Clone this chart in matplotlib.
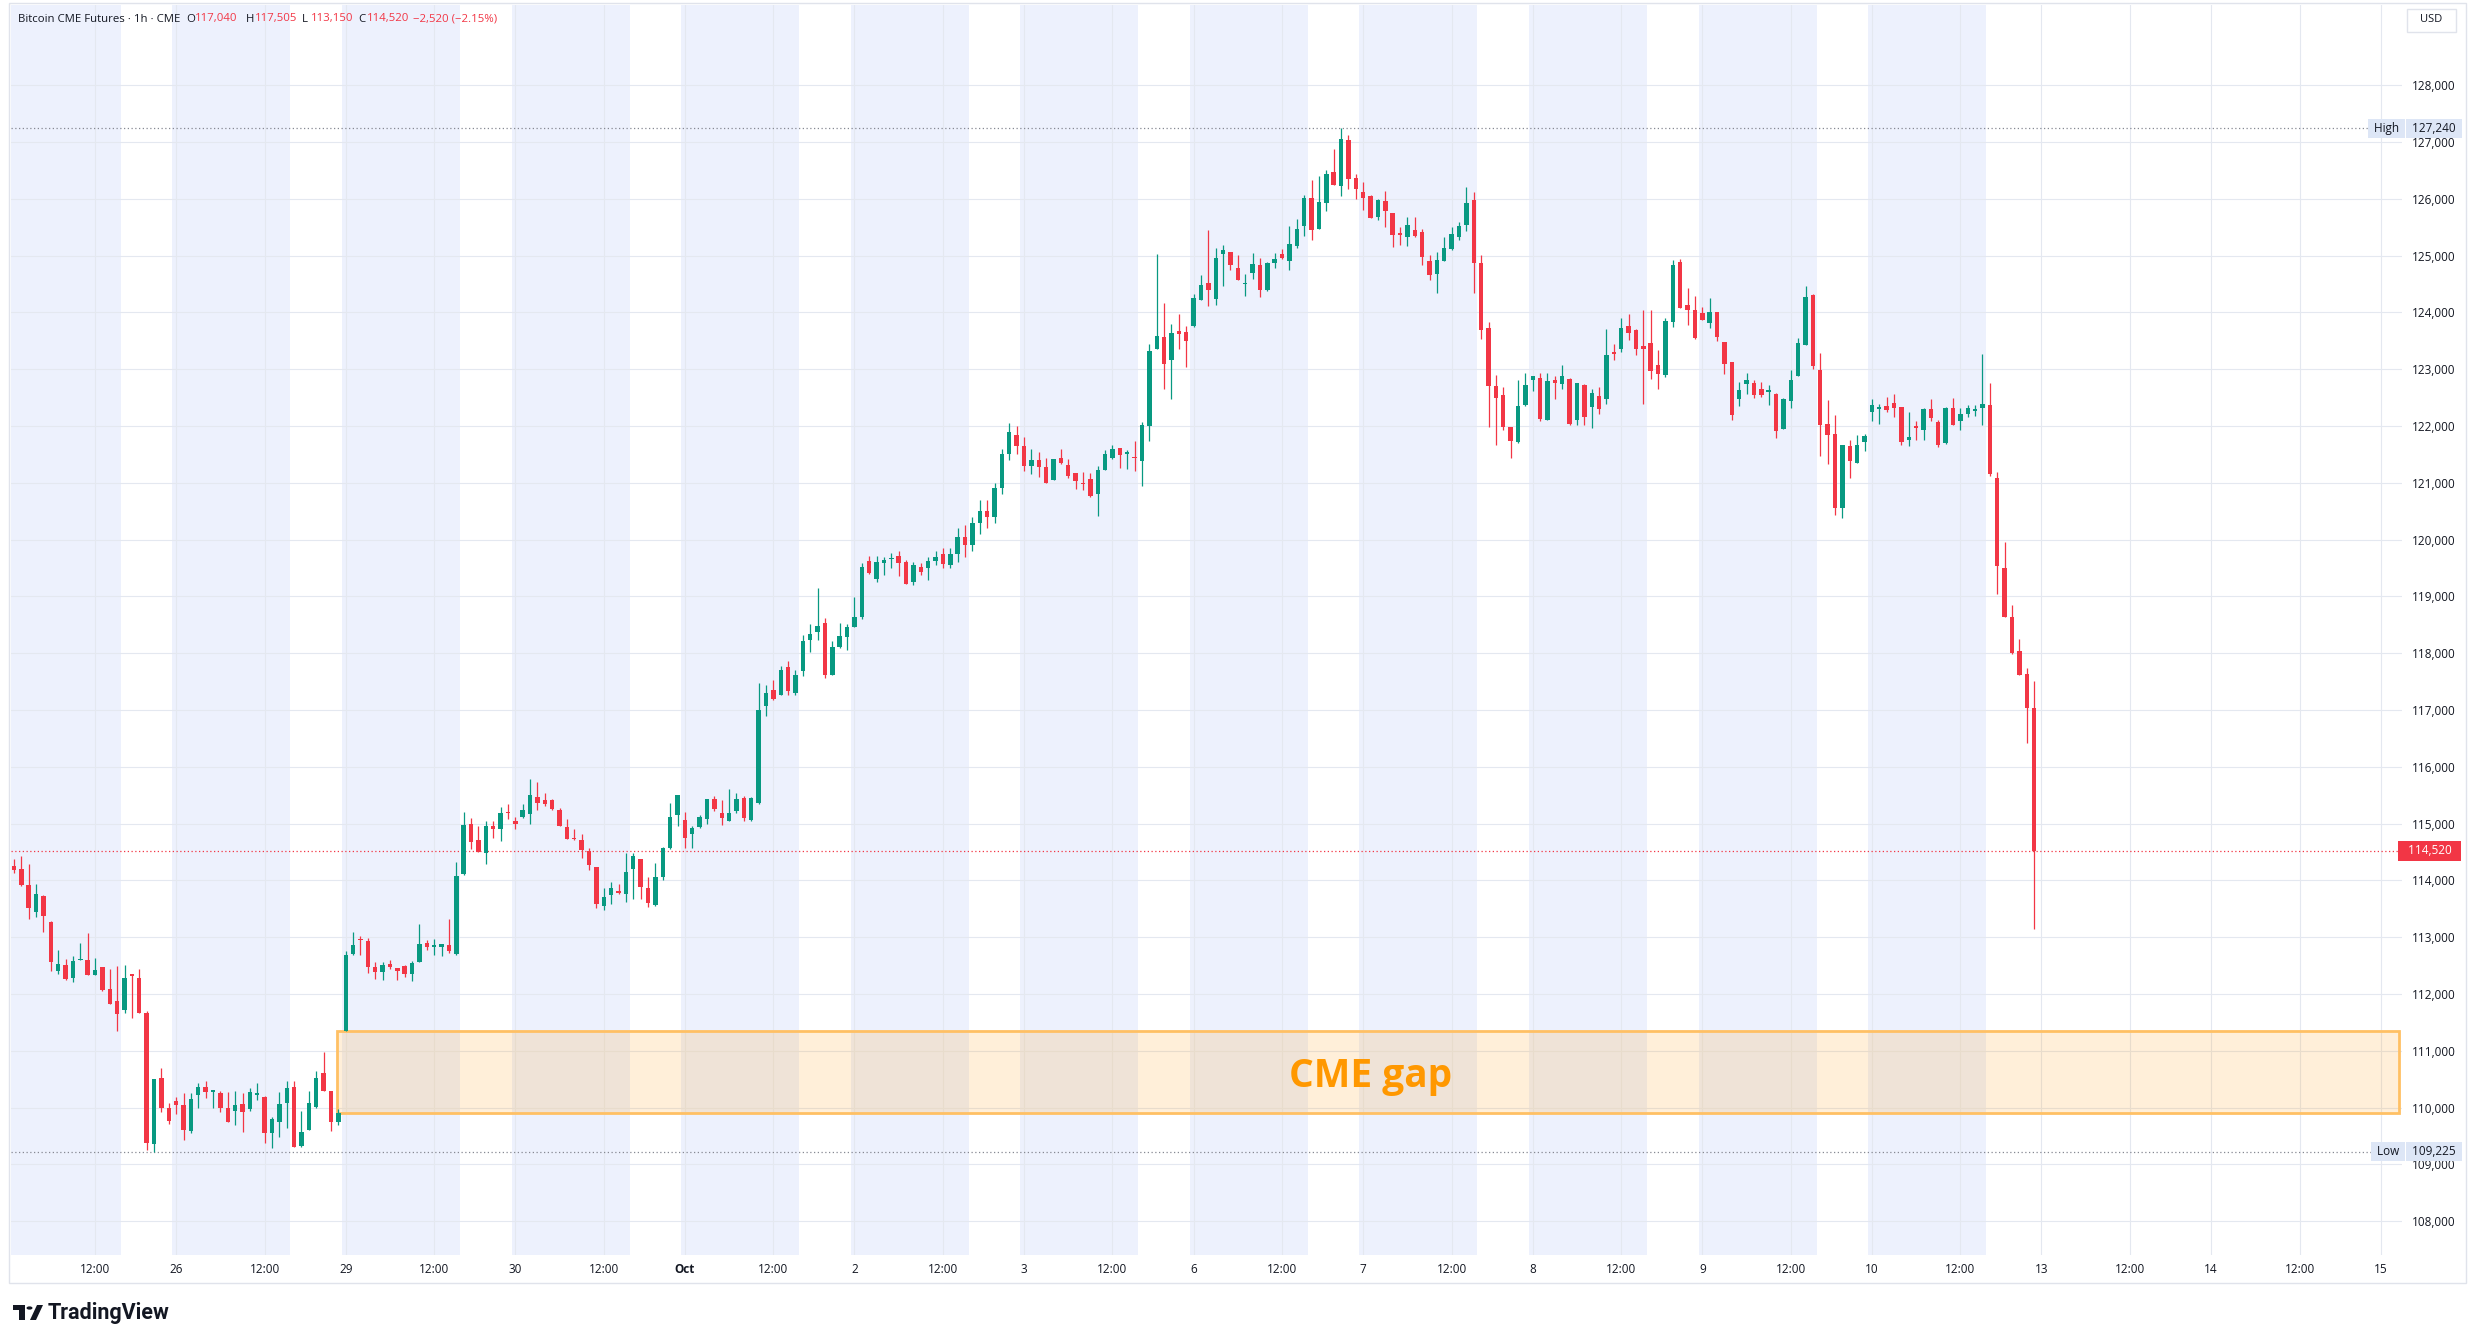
import numpy as np
import matplotlib.pyplot as plt
from matplotlib.patches import Rectangle, Polygon, Circle
import matplotlib.transforms as mtransforms

plt.rcParams['font.family'] = ['Open Sans', 'DejaVu Sans']

# hourly candles, Sep 25 01:00 .. Oct 10 22:00 (bar index 0..274)
opens = [
    114250, 114206, 113912, 113447, 113729, 113271, 112412, 112506, 112282, 112590,
    112600, 112341, 112476, 112094, 111876, 111724, 112350, 112282, 111665, 109359,
    110518, 110000, 110118, 110047, 109588, 110224, 110371, 110280, 110253, 109988,
    109941, 110065, 109971, 110230, 110194, 109547, 109753, 110088, 110371, 109324,
    109606, 110006, 110618, 110294, 109753, 111353, 112706, 112970, 112941, 112482,
    112382, 112524, 112459, 112500, 112359, 112559, 112900, 112835, 112824, 112871,
    112706, 114106, 115000, 114706, 114476, 114959, 114900, 115200, 115047, 115118,
    115165, 115471, 115420, 115424, 115235, 114947, 114753, 114706, 114518, 114235,
    113547, 113741, 113790, 113753, 114194, 114371, 113871, 113559, 114059, 114565,
    115147, 115065, 114812, 114941, 115088, 115429, 115188, 115047, 115224, 115452,
    115059, 115364, 117076, 117358, 117258, 117751, 117299, 117692, 118238, 118372,
    118531, 117610, 118103, 118290, 118466, 118630, 119616, 119311, 119587, 119650,
    119720, 119604, 119252, 119516, 119499, 119627, 119750, 119557, 119750, 120050,
    119900, 120300, 120500, 120400, 120900, 121500, 121850, 121650, 121300, 121400,
    121275, 121041, 121433, 121322, 121170, 120994, 121070, 120795, 121234, 121439,
    121608, 121515, 121450, 121392, 121997, 123352, 123569, 123158, 123674, 123657,
    123757, 124214, 124525, 124243, 125023, 125065, 124789, 124500, 124695, 124830,
    124390, 124871, 125035, 124900, 125164, 125522, 126021, 125463, 125927, 126472,
    126220, 127041, 126367, 126120, 126050, 125680, 125962, 125751, 125405, 125328,
    125446, 125416, 124900, 124683, 124906, 125111, 125328, 125534, 125985, 124877,
    123733, 122707, 122543, 121985, 121710, 122367, 122806, 122847, 122109, 122806,
    122748, 122836, 122097, 122730, 122337, 122525, 122484, 123280, 123364, 123762,
    123698, 123411, 123463, 123070, 122906, 123833, 124889, 124126, 124050, 123997,
    123821, 124009, 123481, 123129, 122484, 122748, 122760, 122660, 122601, 122572,
    121956, 122437, 122883, 123422, 124314, 122982, 122044, 121868, 120560, 121645,
    121352, 121710, 122238, 122308, 122355, 122408, 122337, 121751, 121997, 121927,
    122308, 122062, 121692, 122317, 122096, 122214, 122270, 122317, 122362, 121085,
    119498, 118635, 118044, 117631, 117040,
]
highs = [
    114370, 114429, 114294, 113929, 113740, 113280, 112776, 112618, 112665, 112900,
    113076, 112635, 112476, 112447, 112494, 112518, 112353, 112447, 111694, 110506,
    110694, 110088, 110194, 110253, 110253, 110429, 110471, 110290, 110294, 110282,
    110300, 110253, 110353, 110429, 110200, 109841, 110282, 110471, 110471, 109947,
    110294, 110647, 110976, 110294, 109971, 112753, 113094, 113018, 112988, 112565,
    112565, 112594, 112460, 112518, 112576, 113235, 112953, 112970, 112882, 113312,
    114329, 115212, 115106, 114959, 115047, 115047, 115294, 115353, 115124, 115341,
    115782, 115741, 115547, 115430, 115271, 115076, 114900, 114812, 114576, 114240,
    113871, 113976, 113941, 114488, 114488, 114380, 114059, 114312, 114580, 115371,
    115510, 115212, 114959, 115153, 115430, 115488, 115412, 115606, 115547, 115481,
    115460, 117475, 117446, 117534, 117768, 117868, 117698, 118314, 118519, 119147,
    118619, 118220, 118531, 118513, 118982, 119587, 119720, 119720, 119700, 119760,
    119800, 119640, 119600, 119590, 119700, 119800, 119850, 119850, 120200, 120250,
    120400, 120700, 120700, 121000, 121600, 122050, 122000, 121800, 121600, 121550,
    121439, 121421, 121596, 121421, 121170, 121187, 121170, 121292, 121585, 121667,
    121610, 121579, 121743, 122076, 123452, 125035, 124173, 123792, 123979, 123762,
    124331, 124654, 125457, 125135, 125182, 125070, 125006, 124683, 125047, 124965,
    124880, 125053, 125123, 125516, 125651, 126073, 126337, 126402, 126501, 126883,
    127240, 127117, 126443, 126296, 126062, 126003, 126138, 125751, 125504, 125680,
    125680, 125475, 125006, 125065, 125329, 125504, 125592, 126208, 126120, 125006,
    123833, 122906, 122689, 121990, 122818, 122941, 122880, 122941, 122941, 122882,
    123070, 122840, 122760, 122735, 122660, 122689, 123716, 123452, 123909, 123979,
    123700, 124050, 124050, 123346, 123903, 124918, 124935, 124431, 124290, 124097,
    124255, 124015, 123485, 123135, 122777, 122941, 122806, 122777, 122730, 122575,
    122490, 122982, 123551, 124466, 124320, 123287, 122455, 122191, 121670, 121762,
    121839, 121868, 122484, 122396, 122513, 122560, 122340, 122250, 122085, 122310,
    122472, 122103, 122340, 122487, 122317, 122376, 122376, 123262, 122760, 121196,
    119956, 118849, 118258, 117742, 117505,
]
lows = [
    114135, 113900, 113312, 113359, 113088, 112400, 112353, 112253, 112206, 112590,
    112341, 112341, 112060, 111829, 111341, 111665, 111576, 111660, 109253, 109225,
    109929, 109712, 109882, 109429, 109547, 110000, 110176, 110000, 109929, 109753,
    109694, 109571, 109941, 110135, 109371, 109282, 109488, 109635, 109300, 109312,
    109606, 110000, 110300, 109588, 109694, 111353, 112694, 112694, 112365, 112271,
    112253, 112447, 112253, 112294, 112224, 112559, 112771, 112694, 112665, 112724,
    112682, 114094, 114547, 114500, 114294, 114753, 114694, 115076, 114900, 115106,
    114988, 115235, 115318, 115241, 114953, 114724, 114720, 114400, 114176, 113518,
    113471, 113576, 113765, 113624, 113665, 113665, 113529, 113547, 114000, 114560,
    114959, 114576, 114576, 114918, 115000, 115224, 114976, 115047, 115194, 115053,
    115053, 115346, 116900, 117182, 117258, 117270, 117258, 117592, 118015, 118238,
    117563, 117610, 118091, 118062, 118460, 118607, 119393, 119252, 119381, 119500,
    119357, 119223, 119200, 119375, 119293, 119560, 119500, 119500, 119600, 119700,
    119800, 120100, 120200, 120300, 120800, 121400, 121500, 121200, 121150, 121100,
    120995, 121041, 121333, 121088, 120883, 120865, 120749, 120409, 121230, 121421,
    121263, 121246, 121199, 120936, 121733, 123350, 122660, 122472, 123352, 123041,
    123745, 124210, 124109, 124126, 124460, 124742, 124570, 124290, 124595, 124273,
    124385, 124783, 124947, 124742, 125135, 125346, 125270, 125460, 125780, 126238,
    126044, 126167, 125991, 125798, 125660, 125622, 125504, 125152, 125194, 125164,
    125328, 124830, 124566, 124343, 124900, 125100, 125270, 125428, 124343, 123540,
    121985, 121663, 121927, 121440, 121700, 122360, 122613, 122085, 122100, 122484,
    122660, 122015, 122015, 122015, 121968, 122220, 122396, 123158, 123305, 123510,
    123258, 122396, 122824, 122660, 122865, 123745, 124080, 123774, 123528, 123860,
    123727, 123493, 122924, 122103, 122355, 122572, 122496, 122513, 122378, 121780,
    121950, 122320, 122880, 123420, 123000, 121475, 121328, 120431, 120384, 121076,
    121350, 121563, 122085, 122044, 122250, 122161, 121663, 121645, 121762, 121751,
    122085, 121633, 121690, 122022, 121934, 122155, 122170, 122022, 121122, 119041,
    118635, 117985, 117616, 116421, 113150,
]
closes = [
    114190, 113912, 113506, 113753, 113365, 112559, 112529, 112271, 112582, 112618,
    112341, 112418, 112065, 111829, 111653, 112282, 112310, 111665, 109371, 110506,
    109988, 109765, 110047, 109606, 110147, 110371, 110282, 110290, 109988, 109753,
    110047, 109918, 110271, 110253, 109559, 109794, 110059, 110353, 109312, 109576,
    110076, 110529, 110300, 109753, 109900, 112682, 112859, 112947, 112482, 112382,
    112506, 112471, 112400, 112359, 112547, 112882, 112835, 112845, 112882, 112753,
    114076, 114976, 114682, 114500, 114959, 114900, 115188, 115180, 114988, 115241,
    115506, 115359, 115340, 115253, 114953, 114724, 114724, 114529, 114265, 113588,
    113706, 113871, 113780, 114147, 114429, 113888, 113594, 114059, 114576, 115124,
    115506, 114741, 114929, 115124, 115429, 115265, 115106, 115188, 115441, 115100,
    115452, 117006, 117299, 117199, 117698, 117328, 117610, 118208, 118337, 118472,
    117622, 118103, 118296, 118455, 118630, 119510, 119411, 119604, 119645, 119680,
    119586, 119223, 119557, 119434, 119616, 119700, 119569, 119750, 120050, 119900,
    120300, 120500, 120400, 120900, 121500, 121900, 121650, 121300, 121400, 121270,
    121000, 121421, 121345, 121117, 121029, 120977, 120766, 121228, 121509, 121596,
    121497, 121520, 121433, 122018, 123323, 123587, 123100, 123639, 123628, 123493,
    124255, 124490, 124390, 124959, 125106, 124830, 124578, 124519, 124859, 124390,
    124877, 124947, 124965, 125211, 125475, 126015, 125446, 125944, 126443, 126238,
    127059, 126343, 126179, 126015, 125663, 125985, 125786, 125358, 125370, 125534,
    125346, 124977, 124654, 124918, 125135, 125387, 125522, 125933, 124877, 123686,
    122707, 122501, 121985, 121733, 122355, 122730, 122877, 122132, 122789, 122765,
    122877, 122044, 122760, 122150, 122584, 122308, 123246, 123270, 123727, 123639,
    123364, 123364, 122971, 122924, 123844, 124842, 124085, 124038, 123551, 123862,
    124009, 123563, 123088, 122191, 122642, 122818, 122554, 122554, 122610, 121915,
    122484, 122818, 123469, 124279, 123053, 122015, 121839, 120560, 121663, 121381,
    121663, 121827, 122378, 122310, 122279, 122320, 121721, 121810, 121968, 122308,
    122144, 121663, 122317, 122022, 122214, 122317, 122290, 122391, 121159, 119528,
    118635, 118007, 117616, 117040, 114520,
]

day_labels = ['25', '26', '29', '30', 'Oct', '2', '3', '6', '7', '8', '9', '10', '13', '14', '15']
bars_per_day = 23
first_day_start = -1      # Sep 25 00:00 is one bar before the first candle
noon_offset = 12
session_bars = 16         # shaded hours of each trading day
traded_days = 12

high_price = 127240
low_price = 109225
gap_bottom = 109900
gap_top = 111353
gap_start_bar = 44

UP = '#089981'
DOWN = '#f23645'
BAND = '#edf1fd'
GRID = '#e4e8f0'
TEXT = '#131722'

W, H = 2475, 1343
X_LO, X_HI = -0.4, 323.9


def fx(px):
    return px / W


def fy(py):
    return 1 - py / H


fig = plt.figure(figsize=(W / 100, H / 100), dpi=100)
ax = fig.add_axes([fx(11), fy(1255), fx(2402) - fx(11), fy(5) - fy(1255)])

# session shading
for k in range(traded_days):
    s = first_day_start + k * bars_per_day
    ax.axvspan(s - 0.5, s + session_bars - 0.5, color=BAND, lw=0, zorder=0)

# candles
o = np.array(opens)
h = np.array(highs)
l = np.array(lows)
c = np.array(closes)
x = np.arange(len(o))
colors = np.where(c >= o, UP, DOWN)
ax.vlines(x, l, h, colors=colors, lw=0.9, zorder=3)
ax.bar(x, np.maximum(np.abs(c - o), 25), bottom=np.minimum(o, c), width=0.6,
       color=colors, lw=0, zorder=4)

# CME gap box
ax.add_patch(Rectangle((gap_start_bar - 0.15, gap_bottom), X_HI - gap_start_bar - 0.2,
                       gap_top - gap_bottom, facecolor=(1, 0.596, 0, 0.15),
                       edgecolor='#ffc064', lw=2, zorder=2))
ax.text((gap_start_bar + X_HI) / 2, (gap_top + gap_bottom) / 2, 'CME gap',
        color='#ff9800', fontsize=28, fontweight='bold', ha='center', va='center_baseline',
        zorder=5)

# high / low / last price lines
ax.axhline(high_price, color='#868993', ls=(0, (1, 2)), lw=0.9, zorder=2)
ax.axhline(low_price, color='#868993', ls=(0, (1, 2)), lw=0.9, zorder=2)
ax.axhline(c[-1], color=DOWN, ls=(0, (1, 2)), lw=0.9, zorder=2)

# axes & grid
ax.set_axisbelow(True)
for sp in ax.spines.values():
    sp.set_visible(False)
ax.yaxis.tick_right()
yt = np.arange(108000, 128001, 1000)
ax.set_yticks(yt)
ax.set_yticklabels([f'{v:,}' for v in yt])
ax.tick_params(axis='y', length=0, pad=7, labelsize=8.5, labelcolor=TEXT)

xt, xl = [], []
for k, lab in enumerate(day_labels):
    s = first_day_start + k * bars_per_day
    for pos, txt in [(s, lab), (s + noon_offset, '12:00')]:
        if X_LO < pos < X_HI:
            xt.append(pos)
            xl.append(txt)
ax.set_xticks(xt)
ax.set_xticklabels(xl)
ax.tick_params(axis='x', length=0, pad=6, labelsize=8.5, labelcolor=TEXT)
for t in ax.get_xticklabels():
    if t.get_text() == 'Oct':
        t.set_fontweight('bold')
ax.grid(True, color=GRID, lw=0.8)
ax.set_xlim(X_LO, X_HI)
ax.set_ylim(107405, 129412)

# price labels on the right scale
blend = mtransforms.blended_transform_factory(ax.transAxes, ax.transData)
for name, val in [('High', high_price), ('Low', low_price)]:
    ax.text(1.0, val, f' {name} ', transform=blend, ha='right', va='center', fontsize=8.5,
            color=TEXT, bbox=dict(boxstyle='square,pad=0.25', fc='#dde6f6', ec='none'), zorder=6)
    ax.text(1.003, val, f' {val:,} ', transform=blend, ha='left', va='center',
            fontsize=8.5, color=TEXT, bbox=dict(boxstyle='square,pad=0.25', fc='#dde6f6', ec='none'),
            zorder=6, clip_on=False)
ax.text(1.0, c[-1], f'  {c[-1]:,}  ', transform=blend, ha='left', va='center', fontsize=8.5,
        color='white', bbox=dict(boxstyle='square,pad=0.3', fc=DOWN, ec='none'),
        zorder=6, clip_on=False)

# header legend
chg = c[-1] - c[-2]
pct = chg / c[-2] * 100
fig.text(fx(18), fy(19), 'Bitcoin CME Futures · 1h · CME', fontsize=8.2, color=TEXT, va='center')
for lx, letter, val in [(186, 'O', f'{o[-1]:,}'), (246, 'H', f'{h[-1]:,}'),
                        (302, 'L', f'{l[-1]:,}'), (358, 'C', f'{c[-1]:,}')]:
    fig.text(fx(lx), fy(19), letter, fontsize=8.2, color=TEXT, va='center')
    fig.text(fx(lx + 9), fy(19), val, fontsize=8.2, color=DOWN, va='center')
fig.text(fx(413), fy(19), f'\u2212{abs(chg):,} (\u2212{abs(pct):.2f}%)', fontsize=8.2,
         color=DOWN, va='center')

# USD box
fig.patches.append(Rectangle((fx(2407), fy(32)), fx(2456) - fx(2407), fy(9) - fy(32),
                             transform=fig.transFigure, fc='white', ec='#e0e3eb', lw=1))
fig.text(fx(2431), fy(20), 'USD', fontsize=8, color=TEXT, ha='center', va='center')

# chart frame
fig.patches.append(Rectangle((fx(9), fy(1283)), fx(2466) - fx(9), fy(3) - fy(1283),
                             transform=fig.transFigure, fc='none', ec='#e0e3eb', lw=1))

# TradingView brand
logo = [
    Polygon([(fx(13), fy(1305)), (fx(25), fy(1305)), (fx(25), fy(1320)), (fx(19), fy(1320)),
             (fx(19), fy(1310)), (fx(13), fy(1310))], closed=True),
    Polygon([(fx(30), fy(1320)), (fx(37), fy(1305)), (fx(43), fy(1305)), (fx(36), fy(1320))],
            closed=True),
]
for p in logo:
    p.set_transform(fig.transFigure)
    p.set_facecolor('#131722')
    fig.patches.append(p)
dot = Circle((fx(29.5), fy(1308)), fx(3), transform=fig.transFigure, fc='#131722')
fig.patches.append(dot)
fig.text(fx(48), fy(1313), 'TradingView', fontsize=15.5, fontweight='bold', color='#131722',
         family=['Roboto', 'DejaVu Sans'], va='center')

fig.savefig('out.png', dpi=100, facecolor='white')
